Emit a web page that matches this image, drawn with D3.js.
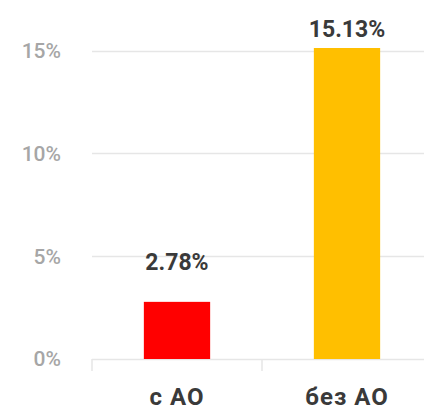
<!DOCTYPE html>
<html>
<head>
<meta charset="utf-8">
<script src="https://cdn.jsdelivr.net/npm/d3@7"></script>
<style>
  body { margin: 0; background: #fff; }
  svg { display: block; font-family: Roboto, "DejaVu Sans", sans-serif; }
</style>
</head>
<body>
<svg id="chart" width="424" height="413"></svg>
<script>
const width = 424;
const height = 413;

// data
const categories = ["с АО", "без АО"];
const values = [2.78, 15.13];
const colors = ["#FF0000", "#FFBF00"];
const yTicks = [0, 5, 10, 15];

const svg = d3.select("#chart");

const x = d3.scaleBand()
    .domain(categories)
    .range([92, 432])
    .paddingInner(0.61)
    .paddingOuter(0.305);

const y = d3.scaleLinear()
    .domain([0, d3.max(values)])
    .range([359, 48]);

// gridlines
svg.append("g")
    .selectAll("line")
    .data(yTicks)
    .enter()
    .append("line")
    .attr("x1", 92)
    .attr("x2", width)
    .attr("y1", d => Math.round(y(d)) + 0.5)
    .attr("y2", d => Math.round(y(d)) + 0.5)
    .attr("stroke", "#e6e6e6")
    .attr("stroke-width", 1.5);

// y tick labels
svg.append("g")
    .selectAll("text")
    .data(yTicks)
    .enter()
    .append("text")
    .attr("x", 61)
    .attr("y", d => y(d))
    .attr("dy", "0.35em")
    .attr("text-anchor", "end")
    .attr("fill", "#a6a6a6")
    .attr("font-size", 21)
    .attr("font-weight", 500)
    .text(d => d + "%");

// small category separators on the baseline
const edges = [x.range()[0], x.range()[0] + x.step()];
svg.append("g")
    .selectAll("line")
    .data(edges)
    .enter()
    .append("line")
    .attr("x1", d => d)
    .attr("x2", d => d)
    .attr("y1", y(0))
    .attr("y2", y(0) + 12)
    .attr("stroke", "#e6e6e6")
    .attr("stroke-width", 1.5);

// bars
svg.append("g")
    .selectAll("rect")
    .data(categories)
    .enter()
    .append("rect")
    .attr("x", d => x(d))
    .attr("y", (d, i) => y(values[i]))
    .attr("width", x.bandwidth())
    .attr("height", (d, i) => y(0) - y(values[i]))
    .attr("fill", (d, i) => colors[i]);

// value labels
svg.append("g")
    .selectAll("text")
    .data(categories)
    .enter()
    .append("text")
    .attr("x", d => x(d) + x.bandwidth() / 2)
    .attr("y", (d, i) => Math.max(y(values[i]) - 32, 37))
    .attr("text-anchor", "middle")
    .attr("fill", "#3a3a3a")
    .attr("font-size", 23)
    .attr("font-weight", 700)
    .text((d, i) => values[i].toFixed(2) + "%");

// category labels
svg.append("g")
    .selectAll("text")
    .data(categories)
    .enter()
    .append("text")
    .attr("x", d => x(d) + x.bandwidth() / 2)
    .attr("y", 405)
    .attr("text-anchor", "middle")
    .attr("fill", "#3a3a3a")
    .attr("font-size", 24)
    .attr("font-weight", 700)
    .attr("letter-spacing", 1)
    .text(d => d);
</script>
</body>
</html>
